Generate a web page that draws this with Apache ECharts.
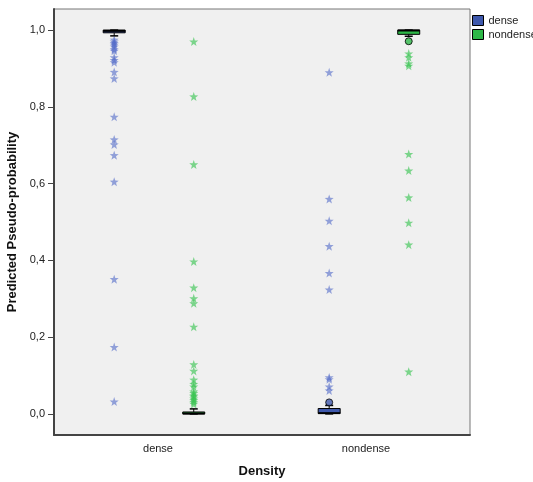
<!DOCTYPE html>
<html>
<head>
<meta charset="utf-8">
<script src="https://cdn.jsdelivr.net/npm/echarts@6/dist/echarts.min.js"></script>
<style>
  html, body { margin: 0; padding: 0; background: #fff; }
  #chart { width: 533px; height: 482px; }
</style>
</head>
<body>
<div id="chart"></div>
<script>
const CATEGORIES = ["dense", "nondense"];

// box stats per category: [min, Q1, median, Q3, max]
const DENSE_BOX = [[0.985, 0.993, 0.998, 1.0, 1.0], [0.0, 0.001, 0.002, 0.014, 0.022]];
const NONDENSE_BOX = [[0.0, 0.0, 0.001, 0.005, 0.013], [0.984, 0.989, 0.999, 1.0, 1.0]];

// outliers (circles)
const DENSE_OUTLIERS = [[], [0.030]];
const NONDENSE_OUTLIERS = [[], [0.971]];

// extreme values (stars)
const DENSE_EXTREMES = [
  [0.975, 0.970, 0.966, 0.962, 0.957, 0.950, 0.946, 0.929, 0.922, 0.916, 0.891, 0.874, 0.774, 0.715, 0.702, 0.674, 0.605, 0.351, 0.174, 0.032],
  [0.890, 0.560, 0.503, 0.437, 0.367, 0.324, 0.095, 0.090, 0.071, 0.061],
];
const NONDENSE_EXTREMES = [
  [0.970, 0.827, 0.650, 0.397, 0.329, 0.301, 0.288, 0.227, 0.129, 0.112, 0.089, 0.078, 0.071, 0.058, 0.054, 0.048, 0.045, 0.040, 0.036, 0.031, 0.026],
  [0.939, 0.929, 0.913, 0.907, 0.677, 0.634, 0.564, 0.498, 0.441, 0.110],
];

const Y_TICKS = [0, 0.2, 0.4, 0.6, 0.8, 1.0];

const BLUE = "#3e58ac";
const GREEN = "#2eb848";
const BLUE_STAR = "rgba(80, 105, 200, 0.75)";
const GREEN_STAR = "rgba(55, 195, 80, 0.8)";
const GROUP_OFFSET = 0.185;
const BOX_WIDTH = 22;
const CAP_WIDTH = 8;
const STAR = "path://M0,-10L2.35,-3.24L9.51,-3.09L3.8,1.24L5.88,8.09L0,4L-5.88,8.09L-3.8,1.24L-9.51,-3.09L-2.35,-3.24Z";
const FONT = "Liberation Sans, Arial, sans-serif";

function boxItem(params, api) {
  const x = api.value(0);
  const px = api.coord([x, 0])[0];
  const y = [1, 2, 3, 4, 5].map((d) => api.coord([x, api.value(d)])[1]);
  const [yMin, yQ1, yMed, yQ3, yMax] = y;
  const line = (x1, y1, x2, y2, w) => ({
    type: "line",
    shape: { x1, y1, x2, y2 },
    style: { stroke: "#000", lineWidth: w || 1 },
  });
  return {
    type: "group",
    children: [
      line(px, yMin, px, yQ1),
      line(px, yQ3, px, yMax),
      line(px - CAP_WIDTH / 2, yMin, px + CAP_WIDTH / 2, yMin, 1.5),
      line(px - CAP_WIDTH / 2, yMax, px + CAP_WIDTH / 2, yMax, 1.5),
      {
        type: "rect",
        shape: { x: px - BOX_WIDTH / 2, y: yQ3, width: BOX_WIDTH, height: Math.max(yQ1 - yQ3, 1) },
        style: { fill: api.visual("color"), stroke: "#000", lineWidth: 1 },
      },
      line(px - BOX_WIDTH / 2, yMed, px + BOX_WIDTH / 2, yMed, 2),
    ],
  };
}

const boxData = (stats, offset) => CATEGORIES.map((c, i) => [i + offset, ...stats[i]]);
const pointData = (lists, offset) => lists.flatMap((vals, i) => vals.map((v) => [i + offset, v]));

const chart = echarts.init(document.getElementById("chart"));

chart.setOption({
  animation: false,
  textStyle: { fontFamily: FONT },
  grid: {
    left: 54,
    top: 9,
    width: 416,
    height: 426,
    outerBoundsMode: "none",
    show: true,
    backgroundColor: "#f0f0f0",
    borderColor: "#777",
    borderWidth: 1,
  },
  legend: {
    orient: "vertical",
    left: 467,
    top: 10,
    itemWidth: 11,
    itemHeight: 10,
    itemGap: 3,
    selectedMode: false,
    textStyle: { fontSize: 11, color: "#222" },
    itemStyle: { borderColor: "#000", borderWidth: 1 },
    data: [
      { name: "dense", icon: "rect" },
      { name: "nondense", icon: "rect" },
    ],
  },
  xAxis: [
    {
      type: "category",
      data: CATEGORIES,
      axisLine: { onZero: false, lineStyle: { color: "#444", width: 2 } },
      axisTick: { alignWithLabel: true, length: 6, lineStyle: { color: "#444" } },
      axisLabel: { color: "#222", fontSize: 11, margin: 8 },
      name: "Density",
      nameLocation: "middle",
      nameGap: 30,
      nameTextStyle: { fontSize: 13, fontWeight: "bold", color: "#111" },
    },
    {
      type: "value",
      min: -0.465,
      max: 1.47,
      show: false,
    },
  ],
  yAxis: {
    type: "value",
    min: -0.055,
    max: 1.055,
    splitLine: { show: false },
    axisLine: { show: true, onZero: false, lineStyle: { color: "#444", width: 2 } },
    axisTick: { show: true, length: 6, customValues: Y_TICKS, lineStyle: { color: "#444" } },
    axisLabel: {
      customValues: Y_TICKS,
      color: "#222",
      fontSize: 11,
      margin: 9,
      formatter: (v) => v.toFixed(1).replace(".", ","),
    },
    name: "Predicted Pseudo-probability",
    nameLocation: "middle",
    nameGap: 27,
    nameTextStyle: { fontSize: 13, fontWeight: "bold", color: "#111" },
  },
  series: [
    {
      name: "dense",
      type: "custom",
      xAxisIndex: 1,
      itemStyle: { color: BLUE },
      renderItem: boxItem,
      encode: { x: 0, y: [1, 2, 3, 4, 5] },
      data: boxData(DENSE_BOX, -GROUP_OFFSET),
      z: 3,
    },
    {
      name: "nondense",
      type: "custom",
      xAxisIndex: 1,
      itemStyle: { color: GREEN },
      renderItem: boxItem,
      encode: { x: 0, y: [1, 2, 3, 4, 5] },
      data: boxData(NONDENSE_BOX, GROUP_OFFSET),
      z: 3,
    },
    {
      name: "dense",
      type: "scatter",
      xAxisIndex: 1,
      symbol: STAR,
      symbolSize: 9,
      itemStyle: { color: BLUE_STAR },
      data: pointData(DENSE_EXTREMES, -GROUP_OFFSET),
    },
    {
      name: "nondense",
      type: "scatter",
      xAxisIndex: 1,
      symbol: STAR,
      symbolSize: 9,
      itemStyle: { color: GREEN_STAR },
      data: pointData(NONDENSE_EXTREMES, GROUP_OFFSET),
    },
    {
      name: "dense",
      type: "scatter",
      xAxisIndex: 1,
      symbol: "circle",
      symbolSize: 7,
      itemStyle: { color: BLUE, borderColor: "#000", borderWidth: 1 },
      data: pointData(DENSE_OUTLIERS, -GROUP_OFFSET),
      z: 4,
    },
    {
      name: "nondense",
      type: "scatter",
      xAxisIndex: 1,
      symbol: "circle",
      symbolSize: 7,
      itemStyle: { color: GREEN, borderColor: "#000", borderWidth: 1 },
      data: pointData(NONDENSE_OUTLIERS, GROUP_OFFSET),
      z: 4,
    },
  ],
});
</script>
</body>
</html>
